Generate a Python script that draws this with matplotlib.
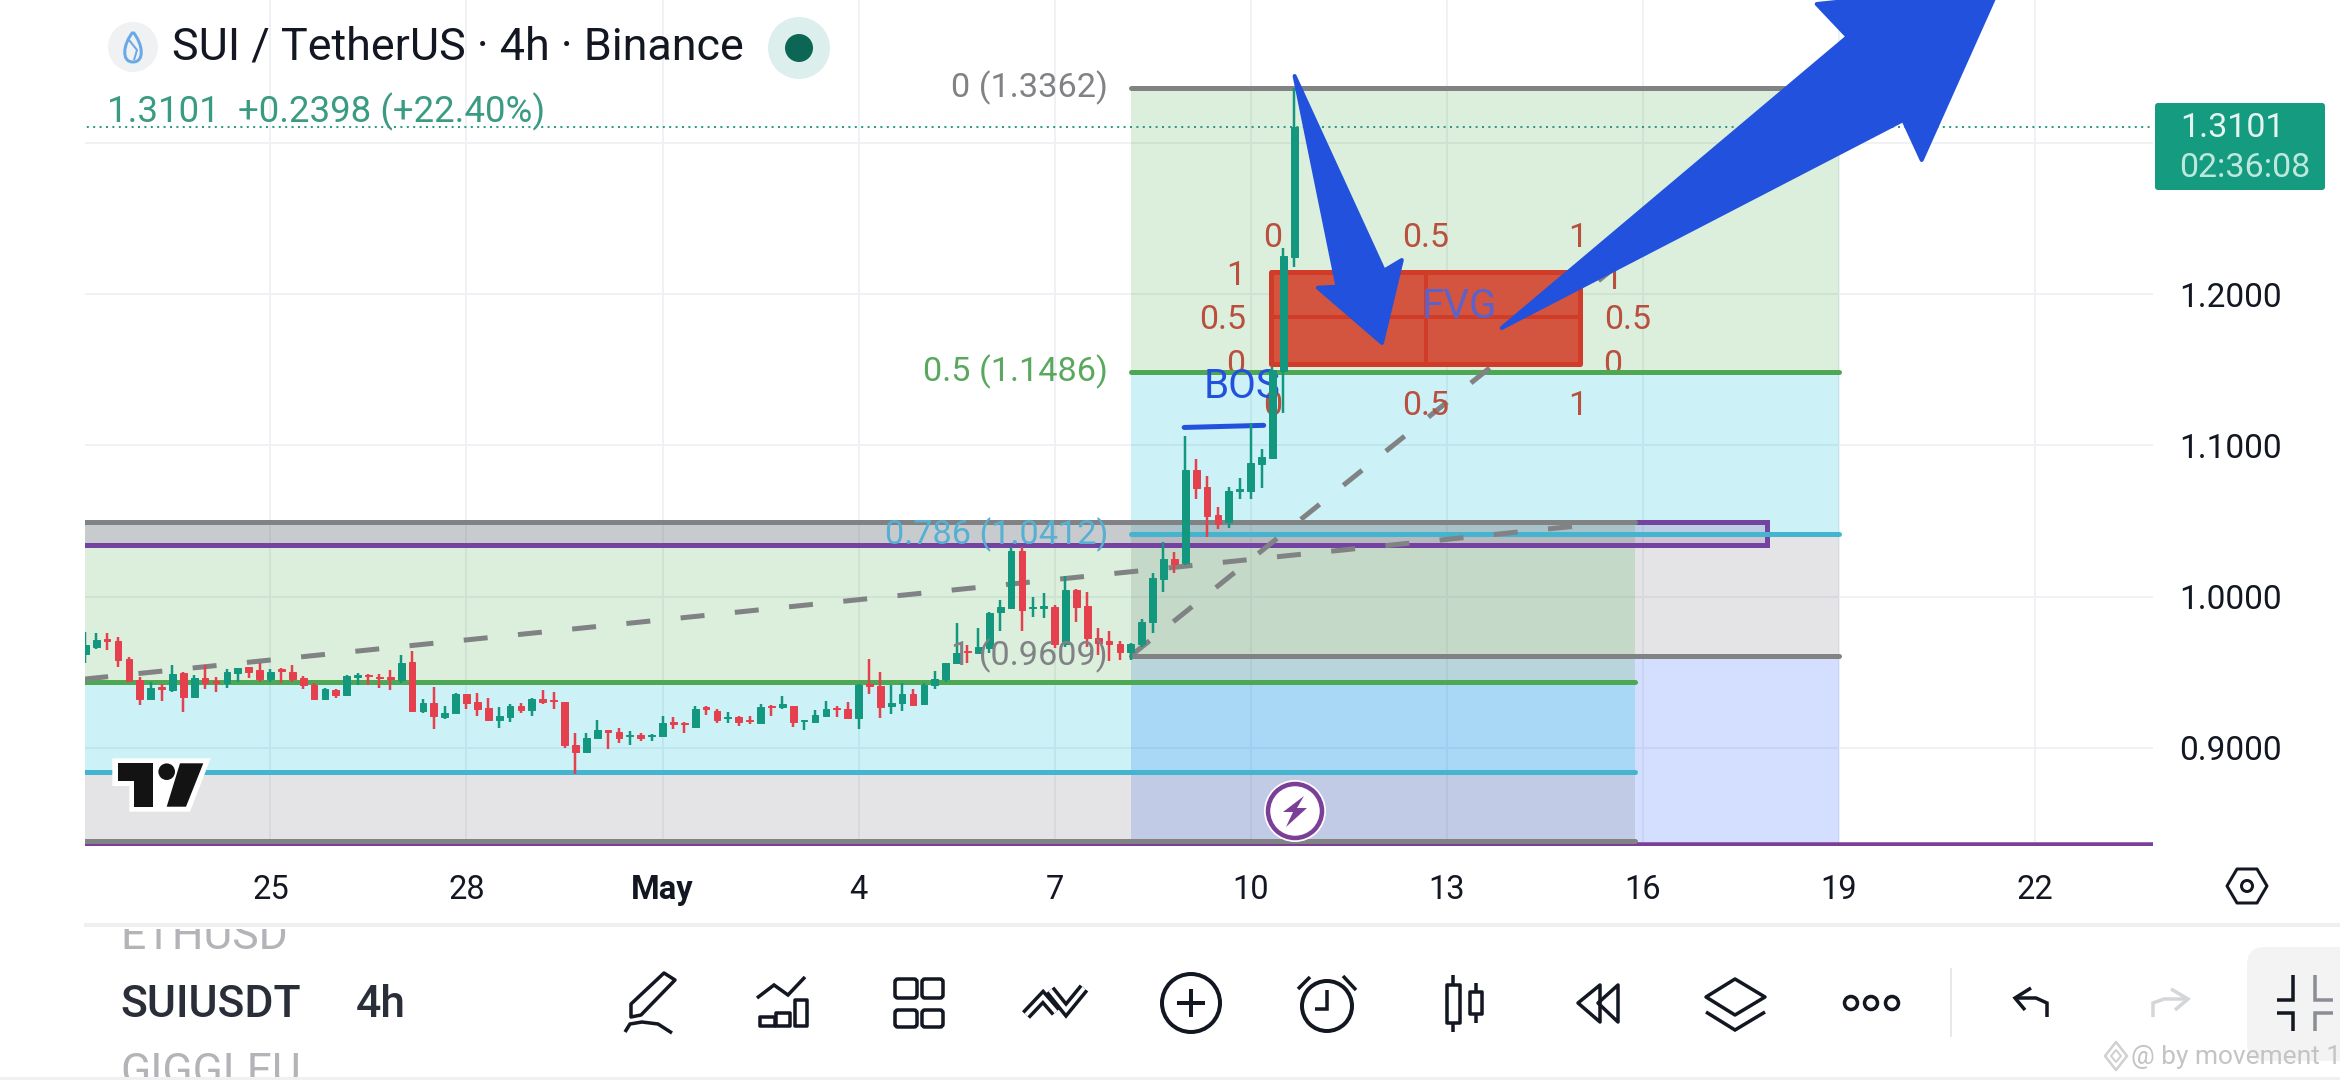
from matplotlib.patches import Circle, FancyBboxPatch, PathPatch, Polygon, Rectangle
from matplotlib.path import Path
from matplotlib.transforms import blended_transform_factory
import matplotlib

matplotlib.use("Agg")
import matplotlib.pyplot as plt

plt.rcParams["font.family"] = ["Roboto", "DejaVu Sans"]

# 4h candles
opens = [
    .9618, .9669, .9722, .9706, .9587, .9448, .9323, .9402, .9382, .9495,
    .9338, .9459, .9442, .9426, .9497, .9532, .9512, .9453, .9519, .9499,
    .9459, .9415, .9323, .9385, .9351, .9470, .9484, .9470, .9466, .9448,
    .9565, .9246, .9294, .9206, .9228, .9354, .9303, .9261, .9188, .9206,
    .9277, .9250, .9323, .9318, .9303, .9017, .8975, .9063, .9116, .9105,
    .9076, .9085, .9080, .9078, .9169, .9166, .9138, .9268, .9246, .9195,
    .9204, .9188, .9166, .9274, .9272, .9277, .9180, .9169, .9213, .9263,
    .9255, .9199, .9424, .9409, .9277, .9294, .9358, .9290, .9413, .9457,
    .9559, .9644, .9625, .9662, .9896, .9926, 1.0301, .9924, .9926, .9929,
    .9686, 1.0043, .9935, .9724, .9704, .9686, .9636, .9686, .9830, 1.0116,
    1.0252, 1.0220, 1.0836, 1.0722, 1.0539, 1.0495, 1.0700, 1.0700, 1.0876, 1.0919,
    1.1494, 1.2247,
]
closes = [
    .9680, .9713, .9708, .9581, .9442, .9323, .9393, .9391, .9492, .9338,
    .9459, .9426, .9431, .9501, .9528, .9501, .9453, .9503, .9510, .9453,
    .9413, .9323, .9389, .9351, .9477, .9481, .9475, .9462, .9455, .9563,
    .9243, .9299, .9210, .9228, .9356, .9299, .9259, .9184, .9210, .9274,
    .9252, .9323, .9301, .9310, .9019, .8975, .9069, .9118, .9105, .9065,
    .9085, .9065, .9087, .9162, .9155, .9155, .9257, .9257, .9184, .9206,
    .9173, .9175, .9270, .9268, .9288, .9169, .9184, .9215, .9255, .9255,
    .9195, .9415, .9411, .9272, .9294, .9354, .9285, .9418, .9457, .9559,
    .9629, .9631, .9664, .9889, .9931, 1.0301, .9911, .9933, .9937, .9686,
    1.0043, .9933, .9724, .9691, .9684, .9636, .9684, .9830, 1.0120, 1.0248,
    1.0215, 1.0836, 1.0720, 1.0535, 1.0479, 1.0698, 1.0709, 1.0880, 1.0920, 1.1498,
    1.2252, 1.3101,
]
highs = [
    .9768, .9757, .9757, .9730, .9603, .9470, .9437, .9422, .9545, .9499,
    .9479, .9548, .9470, .9519, .9530, .9537, .9559, .9523, .9530, .9545,
    .9477, .9426, .9393, .9389, .9481, .9497, .9492, .9492, .9514, .9614,
    .9640, .9321, .9400, .9279, .9360, .9356, .9360, .9327, .9268, .9288,
    .9294, .9329, .9380, .9373, .9303, .9102, .9096, .9188, .9118, .9129,
    .9111, .9102, .9091, .9210, .9206, .9173, .9279, .9277, .9255, .9237,
    .9210, .9210, .9288, .9283, .9343, .9279, .9188, .9250, .9310, .9277,
    .9303, .9422, .9587, .9499, .9415, .9426, .9387, .9431, .9508, .9559,
    .9823, .9680, .9790, .9900, .9977, 1.0330, 1.0330, .9997, 1.0021, .9944,
    1.0134, 1.0050, 1.0028, .9790, .9770, .9708, .9691, .9849, 1.0153, 1.0363,
    1.0297, 1.1061, 1.0907, 1.0797, 1.0590, 1.0722, 1.0781, 1.1149, 1.0973, 1.1520,
    1.2302, 1.3362,
]
lows = [
    .9563, .9653, .9647, .9537, .9435, .9285, .9316, .9310, .9367, .9239,
    .9338, .9391, .9371, .9398, .9437, .9464, .9437, .9437, .9426, .9437,
    .9391, .9316, .9316, .9332, .9347, .9413, .9413, .9398, .9382, .9426,
    .9243, .9228, .9125, .9193, .9228, .9257, .9213, .9177, .9133, .9173,
    .9232, .9213, .9290, .9257, .8997, .8827, .8975, .9061, .8995, .9034,
    .9021, .9047, .9045, .9074, .9122, .9100, .9133, .9221, .9166, .9166,
    .9144, .9155, .9166, .9210, .9255, .9140, .9118, .9166, .9213, .9206,
    .9191, .9125, .9358, .9197, .9226, .9246, .9279, .9288, .9389, .9433,
    .9556, .9563, .9620, .9629, .9774, .9922, .9774, .9863, .9858, .9658,
    .9669, .9834, .9669, .9614, .9574, .9581, .9581, .9669, .9761, 1.0032,
    1.0153, 1.0209, 1.0643, 1.0396, 1.0444, 1.0455, 1.0643, 1.0647, 1.0720, 1.0919,
    1.1212, 1.2177,
]

# the first candle is bar 0, 25 April is bar 17, and a day is 6 bars
tick_bars = [17, 35, 53, 71, 89, 107, 125, 143, 161, 179]
tick_labels = ["25", "28", "May", "4", "7", "10", "13", "16", "19", "22"]
price_ticks = [0.9, 1.0, 1.1, 1.2, 1.3]
price_labels = ["0.9000", "1.0000", "1.1000", "1.2000", ""]

# fib retracement on the right
fib_start, fib_end = 96, 161
fib_levels = [1.3362, 1.1486, 1.0412, 0.9609]
fib_bottom = 0.8375
fib_texts = ["0 (1.3362)", "0.5 (1.1486)", "0.786 (1.0412)", "1 (0.9609)"]
fib_line_colors = ["#808284", "#4ea853", "#45b5cf", "#808284"]
fib_fills = ["#4caf50", "#00bcd4", "#787b86", "#2962ff"]
fib_text_colors = ["#808285", "#5aa85e", "#55b0d4", "#808285"]

# older fib on the left, cut by the chart edge
old_fib_end = 142.3
old_fib_levels = [1.0493, 0.9438, 0.8839, 0.8385]
old_fib_colors = ["#808284", "#4ea853", "#45b5cf", "#808284"]
old_fib_fills = ["#4caf50", "#00bcd4", "#787b86"]

purple_box = (1.0493, 1.0341)
purple_box_end = 154.4
purple_floor = 0.8365
fvg_box = (1.2145, 1.1537)
fvg_mid = 1.1848
fvg_bars = (108.9, 137.2)
fvg_mid_bar = 123.1
last_price = 1.3101
trend_old = ([-0.1, 137.8], [0.9455, 1.0473])
trend_new = ([96, 161], [0.9609, 1.3362])
bos_line = ([100.9, 108.2], [1.1118, 1.1132])

GREEN = "#14977f"
RED = "#e5404e"
BLUE = "#2252dd"
BROWN = "#b9503f"
INK = "#131722"
GREY_DASH = "#808284"
PX = 0.72  # one picture pixel, in points, at dpi 100


def draw_poly(pts, fc="none", ec="none", lw=0, z=5, **kw):
    px.add_patch(Polygon(pts, closed=True, fc=fc, ec=ec, lw=lw * PX, zorder=z, joinstyle="round", **kw))


def draw_line(pts, color=INK, lw=4, z=5):
    xs, ys = zip(*pts)
    px.plot(xs, ys, color=color, lw=lw * PX, zorder=z, solid_capstyle="butt", solid_joinstyle="miter")


def draw_round_box(x0, y0, x1, y1, r=3, fc="none", ec=INK, lw=3.5, z=5):
    px.add_patch(FancyBboxPatch((x0 + r, y0 + r), x1 - x0 - 2 * r, y1 - y0 - 2 * r,
                                boxstyle=f"round,pad={r}", fc=fc, ec=ec, lw=lw * PX, zorder=z))


def clip_text(t, x, y, w, h):
    t.set_clip_path(Rectangle((x, y), w, h, transform=px.transData))
    t.set_clip_on(True)


fig = plt.figure(figsize=(23.4, 10.8), dpi=100, facecolor="white")

ax = fig.add_axes([85 / 2340, (1080 - 846) / 1080, (2153 - 85) / 2340, 846 / 1080])
ax.set_xlim(-0.03, 189.86)
ax.set_ylim(0.8352, 1.3943)

# full picture layer in pixels for the app chrome and the hand drawn marks
px = fig.add_axes([0, 0, 1, 1])
px.set_xlim(0, 2340)
px.set_ylim(1080, 0)
px.axis("off")
px.patch.set_alpha(0)
px.set_zorder(5)

for side in ax.spines.values():
    side.set_visible(False)
ax.yaxis.tick_right()
ax.set_xticks(tick_bars, tick_labels)
ax.set_yticks(price_ticks, price_labels)
ax.tick_params(axis="x", length=0, pad=20, labelsize=23.5, labelcolor=INK)
ax.tick_params(axis="y", length=0, pad=19, labelsize=24, labelcolor=INK)
ax.get_xticklabels()[2].set_fontweight("bold")
ax.set_axisbelow(True)
ax.grid(True, color="#eff1f4", lw=2 * PX)

# zones
edges = fib_levels + [fib_bottom]
for k, color in enumerate(fib_fills):
    ax.fill_between([fib_start, fib_end], edges[k + 1], edges[k], color=color, alpha=0.2, lw=0, zorder=1)
for k, color in enumerate(old_fib_fills):
    ax.fill_between([-1, old_fib_end], old_fib_levels[k + 1], old_fib_levels[k], color=color, alpha=0.2, lw=0, zorder=1)
ax.fill_between([-1, purple_box_end], purple_box[1], purple_box[0], color="#7b3f98", alpha=0.2, lw=0, zorder=1)

# levels, purple first so the fib lines sit on top of it
ax.plot([-1, purple_box_end, purple_box_end, -1],
        [purple_box[0], purple_box[0], purple_box[1], purple_box[1]],
        color="#7442a0", lw=5 * PX, zorder=1.5, solid_joinstyle="miter")
ax.plot([-1, 190], [purple_floor, purple_floor], color="#7b3f98", lw=4.5 * PX, zorder=1.5)
for level, color in zip(fib_levels, fib_line_colors):
    ax.plot([fib_start, fib_end], [level, level], color=color, lw=5 * PX, zorder=2, solid_capstyle="round")
for level, color in zip(old_fib_levels, old_fib_colors):
    ax.plot([-1, old_fib_end], [level, level], color=color, lw=5 * PX, zorder=2, solid_capstyle="round")
ax.plot([-1, 190], [last_price, last_price], color="#2d9b84", lw=2 * PX, ls=(0, (1, 2.2)), zorder=2)
ax.plot(*trend_old, color=GREY_DASH, lw=5 * PX, ls=(0, (4.8, 6.1)), zorder=3)
ax.plot(*trend_new, color=GREY_DASH, lw=5 * PX, ls=(0, (4.8, 6.1)), zorder=3)

# fvg box
ax.add_patch(Rectangle((fvg_bars[0], fvg_box[1]), fvg_bars[1] - fvg_bars[0], fvg_box[0] - fvg_box[1],
                       fc="#d4553f", ec="#d03c28", lw=5 * PX, zorder=3, joinstyle="round"))
ax.plot(fvg_bars, [fvg_mid, fvg_mid], color="#d03c28", lw=4 * PX, zorder=3)
ax.plot([fvg_mid_bar, fvg_mid_bar], fvg_box, color="#d03c28", lw=4 * PX, zorder=3)

# red fib numbers behind the candles, cut at the green level like in the app
red_labels = [
    ("0", 1273, 238), ("0.5", 1426, 238), ("1", 1578, 238),
    ("1", 1236, 276), ("0.5", 1223, 320), ("0", 1236, 365),
    ("1", 1613, 280), ("0.5", 1628, 320), ("0", 1613, 365),
    ("0", 1273, 406), ("0.5", 1426, 406), ("1", 1578, 406),
]
for text, x, y in red_labels:
    t = ax.text(x, y, text, transform=px.transData, color=BROWN, fontsize=24.5, ha="center", va="center", zorder=3.5)
    if y == 365:
        clip_text(t, 0, 0, 2340, 370)

ax.text(1242, 387, "BOS", transform=px.transData, color=BLUE, fontsize=29, ha="center", va="center", zorder=3.5)
ax.plot(*bos_line, color=BLUE, lw=5 * PX, solid_capstyle="round", zorder=3.5)

# candles
for i, (o, h, l, c) in enumerate(zip(opens, highs, lows, closes)):
    color = GREEN if c >= o else RED
    ax.vlines(i, l, h, color=color, lw=2.5 * PX, zorder=4)
    ax.bar(i, abs(c - o), bottom=min(o, c), width=0.62, color=color, ec=color, lw=1 * PX, zorder=4)

ax.text(1459, 306, "FVG", transform=px.transData, color="#5a62cc", fontsize=29, ha="center", va="center", zorder=4.5)

# fib level texts
level_tr = blended_transform_factory(px.transData, ax.transData)
for level, text, color in zip(fib_levels, fib_texts, fib_text_colors):
    ax.text(1108, level, text, transform=level_tr, color=color, fontsize=24.7, ha="right", va="center", zorder=4.5)

# hand drawn arrows
draw_poly([(1294.6, 76), (1383.9, 270.7), (1401.8, 260), (1382, 343), (1317.9, 287.7), (1337.5, 286.7)],
          fc=BLUE, ec=BLUE, lw=4, z=6)
draw_poly([(1501.7, 328), (1847.7, 36.7), (1816.7, 4), (2000, -15), (1921.7, 160), (1903.3, 120)],
          fc=BLUE, ec=BLUE, lw=4, z=6)

# tradingview logo
draw_poly([(112.3, 758.3), (210.7, 758.3), (190, 811.7), (129.3, 811.7), (129.3, 786), (112.3, 786)], fc="white")
draw_poly([(117.7, 763.3), (152.7, 763.3), (152.7, 806.7), (134.3, 806.7), (134.3, 780.7), (117.7, 780.7)], fc="#131313", z=6)
draw_poly([(180, 763.3), (203.3, 763.3), (186, 806.7), (166.7, 806.7)], fc="#131313", z=6)
px.add_patch(Circle((166.7, 771.7), 8.3, fc="#131313", ec="none", zorder=6))

# lightning badge
px.add_patch(Circle((1295, 811), 31, fc="white", ec="none", zorder=5))
px.add_patch(Circle((1295, 811), 27, fc="white", ec="#7b3f98", lw=4.5 * PX, zorder=5))
draw_poly([(1304, 796), (1283, 812), (1293, 812), (1286, 827), (1307, 808), (1297, 808)], fc="#7b3f98", z=6)

# header
px.add_patch(Circle((133, 47), 25, fc="#eff1f3", ec="none"))
drop = Path([(133, 32), (123, 44), (121, 62), (133, 62), (145, 62), (143, 44), (133, 32)],
            [Path.MOVETO, Path.CURVE4, Path.CURVE4, Path.CURVE4, Path.CURVE4, Path.CURVE4, Path.CURVE4])
px.add_patch(PathPatch(drop, fc="none", ec="#6aa9e8", lw=3 * PX))
draw_line([(129, 40), (137, 50), (134, 60)], color="#6aa9e8", lw=2)
px.add_patch(Circle((799, 48), 31, fc="#dcefec", ec="none"))
px.add_patch(Circle((799, 48), 14, fc="#0d6655", ec="none"))
px.text(172, 60, "SUI / TetherUS · 4h · Binance", color=INK, fontsize=32.3, ha="left", va="baseline")
px.text(107, 122, "1.3101  +0.2398 (+22.40%)", color="#3a9b82", fontsize=26.4, ha="left", va="baseline")

# last price tag
px.add_patch(FancyBboxPatch((2158, 106), 164, 81, boxstyle="round,pad=3", fc="#149b80", ec="none", zorder=6))
px.text(2180, 128, "1.3101", color="#e4f5f1", fontsize=24.5, ha="left", va="center", zorder=7)
px.text(2179, 168, "02:36:08", color="#bde8dd", fontsize=24.5, ha="left", va="center", zorder=7)

# hexagon settings icon
draw_poly([(2227, 886), (2237, 869), (2257, 869), (2267, 886), (2257, 903), (2237, 903)], ec=INK, lw=3)
px.add_patch(Circle((2247, 886), 5.5, fc="none", ec=INK, lw=3 * PX))

# separators
px.add_patch(Rectangle((84, 923), 2256, 4, fc="#f0f0f2", ec="none"))
px.add_patch(Rectangle((0, 1077), 2340, 3, fc="#f0f0f2", ec="none"))
px.add_patch(Rectangle((1950, 968), 2, 69, fc="#e8e8ea", ec="none"))

# symbol list, neighbours cut by the list edges
t = px.text(120, 949, "ETHUSD", color="#b4b4b8", fontsize=32, ha="left", va="baseline")
clip_text(t, 0, 929, 400, 60)
t = px.text(120, 1085, "GIGGLEU", color="#b4b4b8", fontsize=32, ha="left", va="baseline")
clip_text(t, 0, 1040, 400, 37)
px.text(120, 1017, "SUIUSDT", color="#2a2e39", fontsize=32, fontweight="medium", ha="left", va="baseline")
px.text(356, 1017, "4h", color="#2a2e39", fontsize=32, fontweight="medium", ha="left", va="baseline")

# toolbar icons
draw_poly([(664, 973), (675, 980), (641, 1015), (631, 1017), (631, 1004)], ec=INK, lw=3.5)
draw_line([(625, 1032), (630, 1024), (642, 1022), (658, 1024), (672, 1033)], lw=3.5)

draw_line([(757, 998), (774, 985), (788, 995), (805, 977)], lw=3.5)
for x0, x1, top in [(760, 775, 1017), (776, 790, 1013), (795, 807, 1000)]:
    draw_poly([(x0, top), (x1, top), (x1, 1026), (x0, 1026)], ec=INK, lw=3.5)

for x0, x1 in [(895, 917), (922, 943)]:
    for y0, y1 in [(979, 998), (1010, 1027)]:
        draw_round_box(x0, y0, x1, y1)

for pts in [[(1026, 1015), (1043, 997), (1056, 1012)], [(1050, 990), (1066, 1010), (1084, 988)]]:
    draw_line(pts, lw=11)
    draw_line(pts, color="white", lw=4, z=5.5)

px.add_patch(Circle((1191, 1003), 29, fc="none", ec=INK, lw=4 * PX))
draw_line([(1177, 1003), (1205, 1003)], lw=4)
draw_line([(1191, 989), (1191, 1017)], lw=4)

px.add_patch(Circle((1327, 1006), 25, fc="none", ec=INK, lw=4 * PX))
draw_line([(1327, 990), (1327, 1009), (1315, 1009)], lw=3.5)
draw_line([(1298, 989), (1310, 977)], lw=3.5)
draw_line([(1356, 990), (1343, 976)], lw=3.5)

draw_line([(1453, 975), (1453, 1032)], lw=3.5)
draw_poly([(1447, 985), (1460, 985), (1460, 1023), (1447, 1023)], fc="white", ec=INK, lw=3.5, z=5.5)
draw_line([(1476, 983), (1476, 1023)], lw=3.5)
draw_poly([(1470, 992), (1482, 992), (1482, 1014), (1470, 1014)], fc="white", ec=INK, lw=3.5, z=5.5)

draw_poly([(1600, 985), (1578, 1003), (1600, 1022)], ec=INK, lw=3.5)
draw_poly([(1618, 985), (1598, 1003), (1618, 1022)], ec=INK, lw=3.5)

draw_poly([(1735, 979), (1765, 997), (1735, 1015), (1706, 997)], ec=INK, lw=3.5)
draw_line([(1706, 1012), (1735, 1030), (1765, 1012)], lw=3.5)

for x in [1851, 1871, 1892]:
    px.add_patch(Circle((x, 1003), 6.5, fc="none", ec=INK, lw=3.5 * PX))

draw_line([(2047, 1017), (2047, 1003), (2036, 998), (2016, 998)], lw=3.5)
draw_line([(2031, 988), (2015, 998), (2025, 1010)], lw=3.5)
draw_line([(2153, 1017), (2153, 1003), (2164, 999), (2186, 999)], color="#d4d6da", lw=3.5)
draw_line([(2171, 989), (2188, 999), (2175, 1010)], color="#d4d6da", lw=3.5)

px.add_patch(FancyBboxPatch((2265, 965), 120, 78, boxstyle="round,pad=18", fc="#f3f3f4", ec="none", zorder=4))
draw_line([(2293, 975), (2293, 1000), (2277, 1000)], lw=3.5)
draw_line([(2293, 1031), (2293, 1013), (2277, 1013)], lw=3.5)
draw_line([(2315, 975), (2315, 1000), (2333, 1000)], color="#8a8d93", lw=3.5)
draw_line([(2315, 1031), (2315, 1013), (2333, 1013)], color="#8a8d93", lw=3.5)

# watermark
draw_poly([(2116, 1042), (2127, 1056), (2116, 1070), (2105, 1056)], ec="#d0d0d0", lw=2.5, z=7)
draw_poly([(2116, 1050), (2121, 1056), (2116, 1062), (2111, 1056)], ec="#d0d0d0", lw=2, z=7)
px.text(2131, 1057, "@ by movement 1", color="#c4c4c4", fontsize=19, ha="left", va="center", zorder=7)

fig.savefig("out.png", dpi=100)
